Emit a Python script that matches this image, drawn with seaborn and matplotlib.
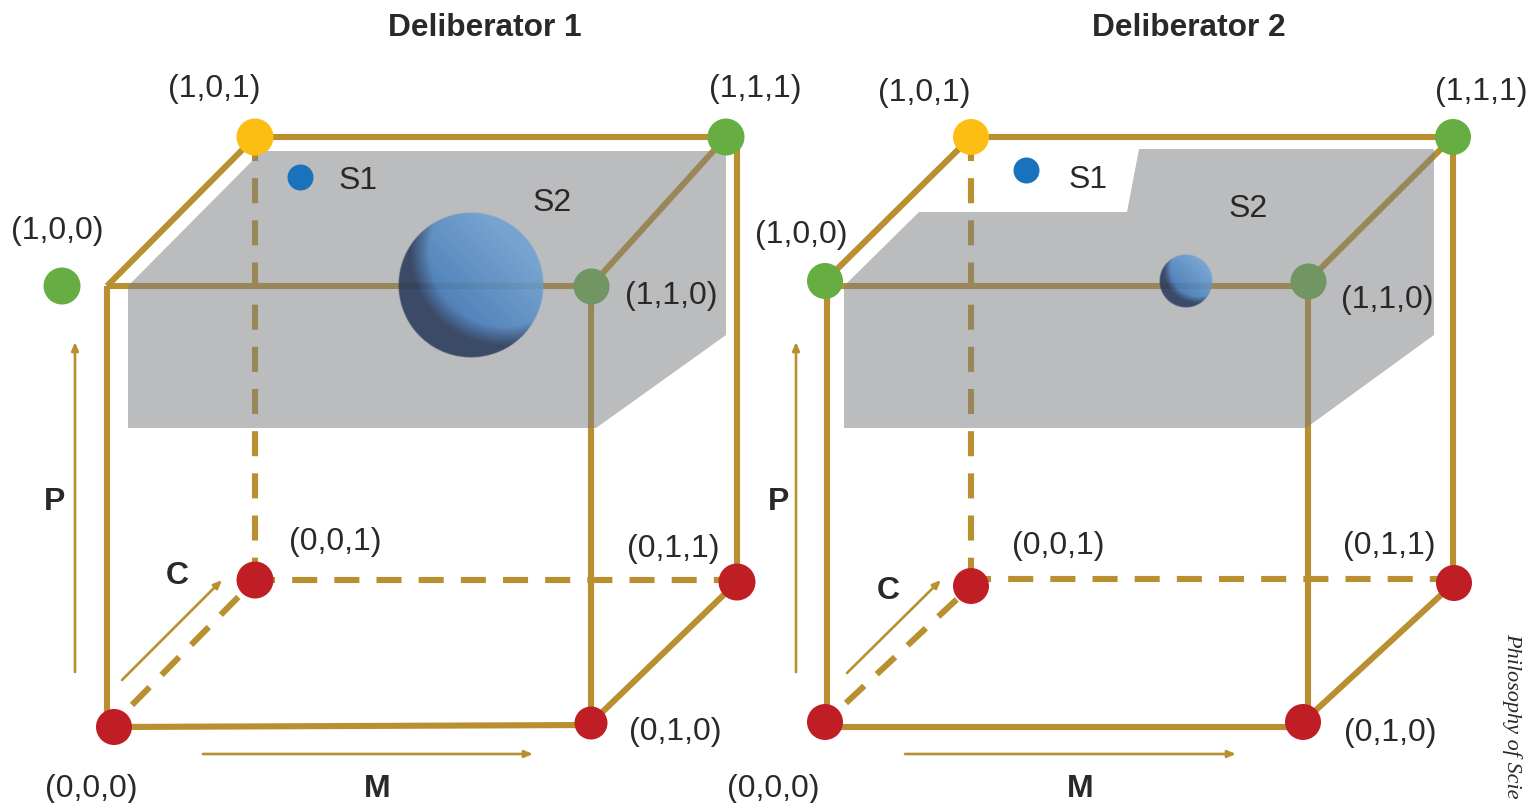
import numpy as np
import pandas as pd
import matplotlib
matplotlib.use("Agg")
import matplotlib.pyplot as plt
from matplotlib.patches import Polygon
import seaborn as sns

# everything in pixels
vertex_names = ["000", "010", "001", "011", "100", "110", "101", "111"]
vertex_labels = ["(0,0,0)", "(0,1,0)", "(0,0,1)", "(0,1,1)", "(1,0,0)", "(1,1,0)", "(1,0,1)", "(1,1,1)"]
vertex_kinds = ["red", "red", "red", "red", "green", "green", "yellow", "green"]

left_x = [114, 591, 255, 737, 62, 591, 255, 726]
left_y = [727, 723, 580, 582, 286, 286, 137, 137]
left_size = [36, 33, 37, 37, 37, 36, 37, 37]
left_label_x = [91, 675, 335, 673, 57, 671, 214, 755]
left_label_y = [786, 729, 539, 546, 228, 293, 86, 86]

right_x = [825, 1303, 971, 1454, 825, 1308, 971, 1453]
right_y = [722, 722, 586, 583, 281, 281, 137, 137]
right_size = [37, 37, 37, 37, 37, 36, 37, 37]
right_label_x = [773, 1390, 1058, 1389, 801, 1387, 924, 1481]
right_label_y = [786, 730, 543, 543, 232, 297, 90, 89]

# x1, y1, x2, y2 of the cube edges
left_solid = [
    (107, 286, 107, 727), (114, 727, 591, 725), (591, 723, 737, 582),
    (591, 286, 591, 723), (107, 286, 591, 286), (107, 286, 255, 137),
    (255, 137, 726, 137), (737, 137, 737, 582), (591, 286, 726, 137),
]
left_dashed = [(255, 136, 255, 580), (250, 580, 737, 580), (132, 705, 255, 580)]
right_solid = [
    (827, 281, 827, 722), (825, 727, 1303, 727), (1303, 722, 1454, 583),
    (1308, 281, 1308, 722), (825, 286, 1308, 286), (825, 281, 971, 137),
    (971, 137, 1453, 137), (1453, 137, 1453, 583), (1308, 281, 1453, 137),
]
right_dashed = [(971, 136, 971, 586), (966, 579, 1454, 579), (846, 703, 971, 586)]

left_shade = [(128, 286), (262, 151), (726, 151), (726, 335), (596, 428), (128, 428)]
right_shade = [(844, 286), (919, 212), (1127, 212), (1139, 149), (1434, 149),
               (1434, 335), (1306, 428), (844, 428)]

# arrows: x1, y1, x2, y2, name, name x, name y
left_axes = [
    (75, 672, 75, 342, "P", 55, 499),
    (203, 754, 533, 754, "M", 377, 786),
    (122, 680, 222, 580, "C", 177, 573),
]
right_axes = [
    (796, 672, 796, 342, "P", 779, 499),
    (905, 754, 1236, 754, "M", 1080, 786),
    (847, 673, 941, 580, "C", 888, 588),
]

panel_titles = ["Deliberator 1", "Deliberator 2"]
title_x = [485, 1189]
title_y = [25, 25]

# S1 dot and S2 sphere
s1_x = [300, 1026]
s1_y = [177, 170]
s1_label_x = [358, 1088]
s1_label_y = [178, 177]
s2_label_x = [552, 1248]
s2_label_y = [200, 206]
s2_x = [471, 1186]
s2_y = [285, 281]
s2_r = [73, 27]

GOLD = "#b8902f"
TEXT = "#2a2829"
TEXT_DY = 2  # va="center" sits a bit high for these fonts
palette = {"red": "#bf1e24", "green": "#66ad42", "yellow": "#fdbe14"}
BOLD = {"family": "Liberation Sans", "weight": "bold"}

sns.set_theme(style="white")
plt.rcParams["font.family"] = ["Liberation Sans", "DejaVu Sans"]


def px_size(d):
    # marker diameter in px -> scatter area at dpi 100
    return (d * 0.72) ** 2


def edges_frame(edges):
    rows = []
    for i, (x1, y1, x2, y2) in enumerate(edges):
        rows.append({"edge": i, "x": x1, "y": y1})
        rows.append({"edge": i, "x": x2, "y": y2})
    return pd.DataFrame(rows)


def draw_sphere(ax, cx, cy, r, zorder):
    n = 2 * r * 3
    v, u = np.mgrid[1:-1:complex(0, n), -1:1:complex(0, n)]
    rr = np.sqrt(u**2 + v**2)
    # shadow is a crescent outside a big disc shifted to the upper right
    d = np.sqrt((u - 0.45) ** 2 + (v - 0.45) ** 2)
    t = np.clip((1.28 - d) / 0.26, 0, 1)
    t2 = np.clip((u + v + 0.6) / 1.8, 0, 1)
    dark = np.array([0.15, 0.22, 0.35])
    mid = np.array([0.25, 0.47, 0.72])
    light = np.array([0.42, 0.63, 0.83])
    body = mid[None, None, :] * (1 - t2[..., None]) + light[None, None, :] * t2[..., None]
    rgb = dark[None, None, :] * (1 - t[..., None]) + body * t[..., None]
    alpha = np.clip((1 - rr) * r, 0, 1) * 0.86
    ax.imshow(np.dstack([rgb, alpha]), extent=(cx - r, cx + r, cy + r, cy - r),
              origin="upper", aspect="auto", zorder=zorder, interpolation="bilinear")


def draw_cube(ax, xs, ys, sizes, lx, ly, solid, dashed, shade, arrows):
    sns.lineplot(data=edges_frame(solid), x="x", y="y", units="edge", estimator=None,
                 sort=False, color=GOLD, linewidth=4.4, ax=ax, zorder=2,
                 solid_capstyle="butt")
    sns.lineplot(data=edges_frame(dashed), x="x", y="y", units="edge", estimator=None,
                 sort=False, color=GOLD, linewidth=4.4, ax=ax, zorder=2,
                 linestyle=(0, (4.1, 2.8)), dash_capstyle="butt")

    nodes = pd.DataFrame({"x": xs, "y": ys, "kind": vertex_kinds, "name": vertex_names,
                          "s": [px_size(d) for d in sizes]})
    under = nodes["name"] == "110"
    # (1,1,0) sits below the grey sheet, the others on top
    ax.scatter(nodes.loc[under, "x"], nodes.loc[under, "y"], s=nodes.loc[under, "s"],
               c=palette["green"], linewidths=0, zorder=3)
    ax.add_patch(Polygon(shade, closed=True, facecolor="#7d7f83", alpha=0.52,
                         edgecolor="none", zorder=4))
    sns.scatterplot(data=nodes[~under], x="x", y="y", hue="kind", palette=palette,
                    size="s", sizes=(nodes["s"].min(), nodes["s"].max()),
                    linewidth=0, legend=False, ax=ax, zorder=6)

    for label, x, y in zip(vertex_labels, lx, ly):
        ax.text(x, y + TEXT_DY, label, ha="center", va="center", fontsize=23, color=TEXT, zorder=8)

    for x1, y1, x2, y2, name, nx, ny in arrows:
        ax.annotate("", xy=(x2, y2), xytext=(x1, y1),
                    arrowprops=dict(arrowstyle="-|>,head_length=0.4,head_width=0.17",
                                    color=GOLD, lw=1.9, shrinkA=0, shrinkB=0), zorder=7)
        ax.text(nx, ny + TEXT_DY, name, ha="center", va="center", fontsize=23, color=TEXT,
                zorder=8, **BOLD)


fig = plt.figure(figsize=(15.3, 8.04), dpi=100)
ax = fig.add_axes([0, 0, 1, 1])

draw_cube(ax, left_x, left_y, left_size, left_label_x, left_label_y,
          left_solid, left_dashed, left_shade, left_axes)
draw_cube(ax, right_x, right_y, right_size, right_label_x, right_label_y,
          right_solid, right_dashed, right_shade, right_axes)

sns.scatterplot(x=s1_x, y=s1_y, color="#1872bc", s=px_size(26), linewidth=0,
                ax=ax, zorder=6, legend=False)

for i in range(2):
    draw_sphere(ax, s2_x[i], s2_y[i], s2_r[i], 5)
    ax.text(s1_label_x[i], s1_label_y[i] + TEXT_DY, "S1", ha="center", va="center",
            fontsize=23, color=TEXT, zorder=8)
    ax.text(s2_label_x[i], s2_label_y[i] + TEXT_DY, "S2", ha="center", va="center",
            fontsize=23, color=TEXT, zorder=8)
    ax.text(title_x[i], title_y[i] + TEXT_DY, panel_titles[i], ha="center", va="center",
            fontsize=22.8, color=TEXT, **BOLD)

# the reference crops this credit at the bottom edge
ax.text(1522, 632, "Philosophy of Scie", rotation=270, ha="left", va="top",
        fontsize=16, family="Liberation Serif", style="italic", color=TEXT,
        rotation_mode="anchor")

ax.set_xlim(0, 1530)
ax.set_ylim(803, -1)
ax.axis("off")

fig.savefig("out.png", dpi=100, facecolor="white")
plt.close(fig)
